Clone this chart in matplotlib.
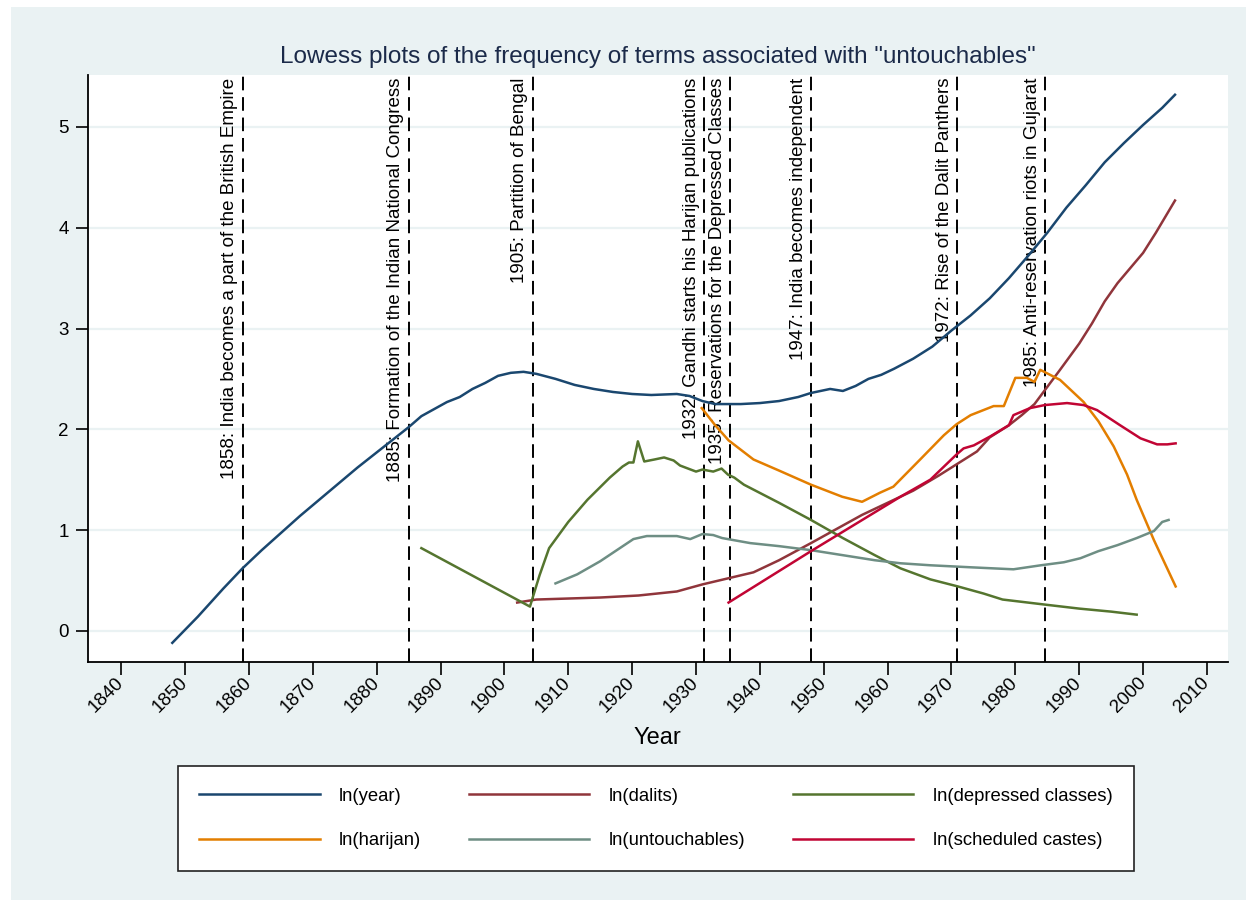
import matplotlib
matplotlib.use("Agg")
import matplotlib.pyplot as plt
from matplotlib.patches import Rectangle

plt.rcParams['font.family'] = ['Liberation Sans', 'DejaVu Sans']

# lowess curves (year, value)
year_x = [1848, 1850, 1852, 1854, 1856, 1859, 1862, 1865, 1868, 1871, 1874, 1877, 1880, 1883,
          1885, 1887, 1889, 1891, 1893, 1895, 1897, 1899, 1901, 1903, 1905, 1908, 1911, 1914,
          1917, 1920, 1923, 1927, 1929, 1931, 1933, 1937, 1940, 1943, 1946, 1948, 1951, 1953,
          1955, 1957, 1959, 1961, 1964, 1967, 1970, 1973, 1976, 1979, 1982, 1985, 1988, 1991,
          1994, 1997, 2000, 2003, 2005]
year_y = [-0.12, 0.01, 0.14, 0.28, 0.42, 0.62, 0.80, 0.97, 1.14, 1.30, 1.46, 1.62, 1.77, 1.92,
          2.02, 2.13, 2.20, 2.27, 2.32, 2.40, 2.46, 2.53, 2.56, 2.57, 2.55, 2.50, 2.44, 2.40,
          2.37, 2.35, 2.34, 2.35, 2.33, 2.28, 2.25, 2.25, 2.26, 2.28, 2.32, 2.36, 2.40, 2.38,
          2.43, 2.50, 2.54, 2.60, 2.70, 2.82, 2.98, 3.13, 3.30, 3.50, 3.72, 3.95, 4.20, 4.42,
          4.65, 4.84, 5.02, 5.19, 5.32]

dalits_x = [1902, 1905, 1910, 1915, 1921, 1927, 1931, 1935, 1939, 1943, 1948, 1952, 1956, 1960,
            1964, 1968, 1971, 1974, 1976, 1979, 1981, 1983, 1985, 1987, 1990, 1992, 1994, 1996,
            1998, 2000, 2002, 2005]
dalits_y = [0.28, 0.31, 0.32, 0.33, 0.35, 0.39, 0.46, 0.52, 0.58, 0.70, 0.87, 1.01, 1.15, 1.27,
            1.39, 1.54, 1.66, 1.78, 1.92, 2.04, 2.14, 2.25, 2.42, 2.59, 2.85, 3.05, 3.27, 3.45,
            3.60, 3.75, 3.95, 4.27]

depressed_x = [1887, 1904, 1905.5, 1907, 1910, 1913, 1916.5, 1918.5, 1919.5, 1920.2, 1920.9,
               1921.9, 1923.5, 1925, 1926.5, 1927.5, 1930, 1931, 1932.7, 1934, 1935, 1936,
               1937.5, 1943, 1948, 1953, 1958, 1962, 1966.7, 1971, 1975, 1978, 1984.6, 1990,
               1995, 1999]
depressed_y = [0.82, 0.24, 0.55, 0.82, 1.08, 1.30, 1.52, 1.63, 1.67, 1.67, 1.88,
               1.68, 1.70, 1.72, 1.69, 1.64, 1.58, 1.60, 1.58, 1.61, 1.55, 1.52,
               1.45, 1.27, 1.10, 0.92, 0.75, 0.62, 0.51, 0.44, 0.37, 0.31, 0.26, 0.22,
               0.19, 0.16]

harijan_x = [1930.9, 1933, 1935.1, 1939, 1943, 1948, 1952.9, 1956, 1958.8, 1960.9, 1965.1,
             1968.8, 1970.8, 1973, 1976.6, 1978.2, 1980, 1981.8, 1983, 1983.9, 1987, 1990.7,
             1993, 1995.4, 1997.5, 1999, 2001.7, 2005.1]
harijan_y = [2.21, 2.04, 1.89, 1.70, 1.59, 1.45, 1.33, 1.28, 1.37, 1.43, 1.70,
             1.94, 2.05, 2.14, 2.23, 2.23, 2.51, 2.51, 2.47, 2.59, 2.49, 2.27,
             2.08, 1.83, 1.55, 1.30, 0.90, 0.44]

untouch_x = [1908, 1911.4, 1915, 1917.6, 1920.2, 1922.3, 1927, 1929.1, 1931, 1932.7, 1934.1,
             1938.5, 1943, 1948, 1953, 1958, 1962, 1966.7, 1973, 1979.7, 1984, 1987.6, 1990.2,
             1993, 1996, 1999, 2001.7, 2003, 2004]
untouch_y = [0.47, 0.56, 0.69, 0.80, 0.91, 0.94, 0.94, 0.91, 0.96, 0.95, 0.92,
             0.87, 0.84, 0.80, 0.75, 0.70, 0.67, 0.65, 0.63, 0.61, 0.65, 0.68, 0.72,
             0.79, 0.85, 0.92, 0.99, 1.08, 1.10]

sched_x = [1935.1, 1948, 1955, 1962, 1966.7, 1970.8, 1971.9, 1973.5, 1976.1, 1979, 1979.7,
           1982.3, 1984.6, 1988.1, 1990.7, 1992.8, 1996.4, 1999.6, 2002.2, 2003.8, 2005.1]
sched_y = [0.28, 0.79, 1.06, 1.33, 1.50, 1.75, 1.81, 1.84, 1.93, 2.04, 2.14,
           2.21, 2.24, 2.26, 2.24, 2.19, 2.04, 1.91, 1.85, 1.85, 1.86]

event_x = [1859, 1885, 1904.4, 1931.3, 1935.3, 1948, 1970.9, 1984.7]
event_labels = ["1858: India becomes a part of the British Empire",
                "1885: Formation of the Indian National Congress",
                "1905: Partition of Bengal",
                "1932: Gandhi starts his Harijan publications",
                "1935: Reservations for the Depressed Classes",
                "1947: India becomes independent",
                "1972: Rise of the Dalit Panthers",
                "1985: Anti-reservation riots in Gujarat"]

series = [(year_x, year_y, '#1A476F', 'ln(year)'),
          (dalits_x, dalits_y, '#90353B', 'ln(dalits)'),
          (depressed_x, depressed_y, '#55752F', 'ln(depressed classes)'),
          (harijan_x, harijan_y, '#E37E00', 'ln(harijan)'),
          (untouch_x, untouch_y, '#6E8E84', 'ln(untouchables)'),
          (sched_x, sched_y, '#C10534', 'ln(scheduled castes)')]

bg = '#EAF2F3'
fig = plt.figure(figsize=(12.54, 9.07), dpi=100)
fig.patch.set_facecolor('white')
fig.patches.append(Rectangle((11 / 1254, 1 - 900 / 907), 1235 / 1254, 893 / 907,
                             transform=fig.transFigure, facecolor=bg, edgecolor='none', zorder=-5))

ax = fig.add_axes([88 / 1254, 1 - 662 / 907, 1140 / 1254, 587 / 907])
ax.set_zorder(1)
ax.set_facecolor('white')
ax.set_xlim(1834.8, 2013.3)
ax.set_ylim(-0.31, 5.516)

for s in ['top', 'right']:
    ax.spines[s].set_visible(False)
for s in ['left', 'bottom']:
    ax.spines[s].set_linewidth(1.3)

ax.set_yticks(range(0, 6))
ax.set_xticks(range(1840, 2011, 10))
ax.tick_params(axis='both', length=9, width=1.2, labelsize=13.5)
ax.tick_params(axis='y', pad=5)
ax.tick_params(axis='x', pad=4)
for lab in ax.get_xticklabels():
    lab.set_rotation(45)
    lab.set_ha('right')
    lab.set_va('center')
    lab.set_rotation_mode('anchor')

ax.grid(axis='y', color=bg, linewidth=1.6)
ax.set_axisbelow(True)

for ex, lab in zip(event_x, event_labels):
    ax.axvline(ex, color='black', lw=1.4, linestyle=(0, (7, 3.5)), zorder=2)
    ax.annotate(lab, xy=(ex, 1), xycoords=('data', 'axes fraction'), xytext=(-3, -2),
                textcoords='offset points', rotation=90, ha='right', va='top', fontsize=13.5)

handles = []
for xs, ys, c, name in series:
    h, = ax.plot(xs, ys, color=c, lw=1.8, label=name, zorder=3)
    handles.append(h)

fig.text(658 / 1254, 1 - 57 / 907, 'Lowess plots of the frequency of terms associated with "untouchables"',
         ha='center', va='center', fontsize=17.5, color='#1b2a49')
fig.text(657 / 1254, 1 - 738 / 907, 'Year', ha='center', va='center', fontsize=17)

# legend is filled row by row like the original
order = [0, 3, 1, 4, 2, 5]
leg = fig.legend([handles[i] for i in order], [series[i][3] for i in order],
                 loc='center', bbox_to_anchor=(656 / 1254, 1 - 818.5 / 907), ncol=3,
                 fontsize=13.3, handlelength=6.5, handletextpad=1.05, labelspacing=1.5,
                 columnspacing=2.6, borderpad=1.15, fancybox=False, framealpha=1)
leg.get_frame().set_edgecolor('#222222')
leg.get_frame().set_linewidth(1.2)

fig.savefig('out.png', dpi=100, facecolor=fig.get_facecolor())
